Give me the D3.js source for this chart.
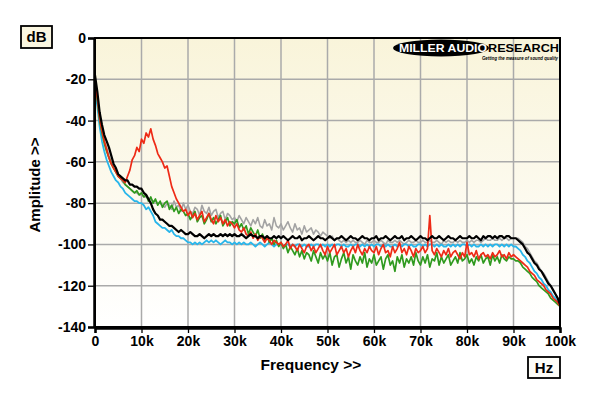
<!DOCTYPE html>
<html><head><meta charset="utf-8">
<script src="https://cdn.jsdelivr.net/npm/d3@7"></script>
<style>
html,body{margin:0;padding:0;background:#fff;}
svg{display:block;font-family:"Liberation Sans",Arial,sans-serif;}
</style></head>
<body><svg id="c" width="600" height="396"></svg>
<script>
// Frequency grid in kHz (0.5 kHz steps, 0..100) -> 201 points
const freqK = d3.range(0, 100.25, 0.5);

const black = [
-18,-26,-36,-42,-47, -50,-53,-57,-61,-63, -66,-67,-68,-69,-69, -71,-71,-72,-72,-73,
-73,-75,-76,-78,-80, -83,-85,-86,-88,-88, -89,-90,-91,-91,-92, -93,-94,-93,-94,-95,
-95,-94,-95,-96,-96, -95,-96,-97,-96,-95, -96,-95,-96,-96,-95, -96,-95,-96,-95,-96,
-95,-96,-96,-95,-96, -97,-96,-95,-96,-96, -97,-96,-96,-97,-96, -97,-97,-96,-97,-96,
-97,-96,-97,-98,-97, -96,-97,-97,-96,-98, -97,-97,-96,-97,-98, -97,-96,-97,-97,-98,
-97,-96,-97,-98,-97, -97,-96,-97,-98,-97, -96,-97,-97,-98,-97, -96,-97,-97,-98,-97,
-97,-96,-98,-97,-97, -96,-97,-98,-97,-96, -97,-97,-96,-98,-97, -97,-96,-97,-98,-97,
-96,-97,-97,-98,-97, -96,-97,-97,-96,-97, -98,-97,-96,-97,-97, -98,-97,-96,-97,-97,
-97,-96,-97,-97,-96, -97,-98,-96,-97,-96, -96,-97,-96,-97,-96, -96,-97,-96,-96,-97,
-97,-97,-98,-99,-100, -102,-104,-105,-107,-109, -110,-112,-113,-115,-117, -119,-120,-122,-124,-126,
-129];

const gray = [
-20,-28,-38,-44,-50, -53,-57,-60,-63,-65, -67,-68,-70,-71,-72, -73,-74,-75,-75,-76,
-76,-77,-77,-78,-78, -79,-79,-80,-80,-81, -82,-80,-81,-83,-79, -82,-81,-84,-80,-83,
-81,-84,-85,-82,-83, -86,-81,-84,-85,-82, -86,-84,-83,-87,-85, -84,-88,-85,-86,-88,
-87,-89,-86,-88,-90, -87,-89,-91,-88,-90, -87,-91,-92,-88,-91, -90,-93,-87,-91,-92,
-90,-93,-91,-89,-92, -94,-90,-93,-92,-95, -91,-94,-93,-92,-95, -93,-94,-96,-94,-95,
-96,-97,-96,-98,-97, -98,-99,-98,-99,-98, -99,-98,-99,-99,-98, -99,-100,-98,-99,-99,
-98,-99,-99,-98,-99, -100,-98,-99,-99,-98, -99,-98,-99,-100,-99, -98,-99,-99,-98,-99,
-99,-98,-99,-99,-98, -99,-99,-98,-99,-100, -98,-99,-98,-99,-99, -98,-99,-98,-99,-99,
-98,-99,-98,-99,-98, -98,-99,-98,-97,-98, -98,-97,-98,-98,-97, -98,-97,-97,-98,-97,
-97,-97,-97,-98,-99, -101,-102,-104,-106,-108, -109,-111,-113,-114,-116, -118,-120,-122,-124,-126,
-129];

const cyan = [
-26,-33,-43,-50,-55, -59,-62,-65,-67,-69, -70,-72,-73,-75,-76, -77,-78,-79,-79,-80,
-80,-81,-83,-82,-84, -86,-89,-90,-91,-92, -92,-93,-94,-93,-95, -96,-96,-97,-97,-98,
-99,-99,-100,-99,-100, -99,-100,-99,-98,-99, -98,-99,-98,-99,-100, -99,-98,-99,-99,-100,
-99,-100,-99,-100,-99, -100,-100,-99,-100,-101, -100,-99,-100,-101,-100, -99,-100,-101,-100,-100,
-100,-101,-100,-100,-101, -100,-101,-100,-100,-101, -100,-101,-101,-100,-101, -100,-100,-101,-100,-101,
-100,-101,-100,-101,-100, -100,-101,-100,-101,-101, -100,-101,-100,-100,-101, -100,-101,-100,-101,-100,
-101,-100,-100,-101,-100, -101,-100,-101,-101,-100, -101,-100,-101,-100,-100, -101,-100,-101,-101,-100,
-100,-101,-100,-101,-100, -100,-101,-100,-101,-100, -101,-101,-100,-101,-100, -101,-100,-101,-100,-100,
-101,-100,-101,-100,-101, -101,-100,-101,-100,-101, -100,-101,-100,-100,-101, -100,-101,-100,-101,-100,
-101,-101,-102,-103,-105, -106,-108,-109,-111,-113, -114,-116,-117,-119,-120, -122,-123,-125,-126,-128,
-129];

const green = [
-22,-30,-40,-46,-51, -55,-58,-61,-63,-65, -67,-68,-69,-71,-72, -73,-74,-75,-74,-76,
-75,-77,-76,-79,-77, -80,-78,-81,-79,-82, -80,-79,-83,-81,-84, -82,-85,-83,-84,-86,
-85,-88,-86,-84,-89, -87,-86,-90,-88,-85, -89,-87,-90,-88,-86, -91,-89,-87,-91,-89,
-90,-88,-92,-90,-93, -91,-95,-92,-94,-96, -93,-97,-95,-98,-96, -99,-97,-100,-98,-101,
-99,-102,-100,-104,-101, -103,-105,-102,-106,-103, -107,-104,-105,-108,-103, -106,-109,-104,-107,-105,
-108,-104,-110,-106,-105, -111,-107,-104,-109,-106, -112,-105,-108,-110,-106, -109,-104,-111,-107,-109,
-105,-110,-108,-106,-112, -107,-105,-110,-108,-113, -106,-109,-105,-111,-107, -109,-106,-110,-104,-108,
-110,-106,-109,-105,-111, -107,-108,-104,-110,-106, -109,-107,-105,-110,-108, -106,-109,-104,-108,-107,
-105,-109,-107,-110,-106, -108,-105,-109,-107,-106, -110,-105,-108,-106,-109, -105,-107,-108,-106,-107,
-107,-108,-108,-109,-111, -112,-113,-114,-116,-117, -118,-120,-121,-122,-123, -124,-126,-127,-128,-129,
-130];

const red = [
-21,-29,-39,-45,-50, -54,-58,-61,-63,-65, -67,-68,-69,-70,-67, -64,-59,-57,-53,-55,
-49,-51,-46,-48,-44, -49,-52,-56,-58,-60, -63,-62,-67,-72,-75, -78,-80,-82,-84,-83,
-86,-84,-87,-85,-88, -86,-84,-89,-87,-85, -88,-90,-86,-89,-87, -90,-88,-91,-89,-90,
-92,-90,-93,-94,-92, -95,-96,-94,-97,-95, -98,-96,-97,-99,-97, -98,-100,-98,-99,-100,
-99,-101,-100,-98,-102, -100,-101,-103,-100,-102, -104,-101,-100,-103,-101, -104,-102,-100,-103,-105,
-101,-104,-102,-100,-105, -103,-101,-104,-102,-106, -103,-101,-104,-100,-103, -105,-102,-104,-101,-103,
-104,-101,-105,-102,-100, -104,-103,-106,-101,-104, -102,-99,-104,-102,-105, -101,-103,-106,-102,-104,
-103,-101,-104,-102,-86, -103,-105,-102,-104,-106, -103,-105,-102,-106,-104, -103,-105,-107,-104,-106,
-99,-105,-104,-106,-103, -107,-105,-104,-106,-105, -107,-104,-106,-105,-103, -106,-105,-107,-104,-106,
-105,-106,-107,-108,-109, -110,-111,-113,-114,-115, -117,-118,-119,-120,-122, -123,-124,-126,-127,-128,
-130];

const yTicks = [0,-20,-40,-60,-80,-100,-120,-140];
const yTickLabels = ["0","-20","-40","-60","-80","-100","-120","-140"];
const xTicksK = [0,10,20,30,40,50,60,70,80,90,100];
const xTickLabels = ["0","10k","20k","30k","40k","50k","60k","70k","80k","90k","100k"];

const svg = d3.select("#c");
const L=95, R=560, T=38, B=327;
const x = d3.scaleLinear().domain([0,100]).range([L,R]);
const y = d3.scaleLinear().domain([-140,0]).range([B,T]);

const defs = svg.append("defs");
const grad = defs.append("linearGradient").attr("id","bg").attr("x1",0).attr("y1",0).attr("x2",0).attr("y2",1);
grad.append("stop").attr("offset","0%").attr("stop-color","#f9f4da");
grad.append("stop").attr("offset","100%").attr("stop-color","#ffffff");
defs.append("clipPath").attr("id","clip").append("rect").attr("x",L).attr("y",T).attr("width",R-L).attr("height",B-T);

svg.append("rect").attr("x",L).attr("y",T).attr("width",R-L).attr("height",B-T).attr("fill","url(#bg)");

// grid
const g = svg.append("g");
g.selectAll(".gv").data(xTicksK.slice(1,-1)).enter().append("line")
  .attr("x1",d=>x(d)).attr("x2",d=>x(d)).attr("y1",T).attr("y2",B)
  .attr("stroke","#aaaaaa").attr("stroke-width",1.5);
g.selectAll(".gh").data(yTicks.slice(1,-1)).enter().append("line")
  .attr("x1",L).attr("x2",R).attr("y1",d=>y(d)).attr("y2",d=>y(d))
  .attr("stroke","#aaaaaa").attr("stroke-width",1.5);

// logo
const logo = svg.append("g");
logo.append("ellipse").attr("cx",441).attr("cy",48).attr("rx",48).attr("ry",8.5).attr("fill","#000");
logo.append("text").attr("x",399).attr("y",52).attr("fill","#fff").attr("font-size",11).attr("font-weight",900)
  .attr("textLength",88).attr("lengthAdjust","spacingAndGlyphs").text("MILLER AUDIO");
logo.append("text").attr("x",488).attr("y",52).attr("fill","#000").attr("font-size",11).attr("font-weight",900)
  .attr("textLength",71).attr("lengthAdjust","spacingAndGlyphs").text("RESEARCH");
logo.append("text").attr("x",482).attr("y",60).attr("fill","#000").attr("font-size",5).attr("font-weight",700)
  .attr("font-style","italic").attr("textLength",76).attr("lengthAdjust","spacingAndGlyphs").text("Getting the measure of sound quality");

// curves
const line = d3.line().x((d,i)=>x(freqK[i])).y(d=>y(d));
const cg = svg.append("g").attr("clip-path","url(#clip)");
const series = [
  {v:gray,c:"#a3a3a3",w:1.6},
  {v:cyan,c:"#27b5ea",w:1.8},
  {v:green,c:"#2f9a1e",w:1.7},
  {v:red,c:"#ee2a16",w:1.7},
  {v:black,c:"#000000",w:2.2}
];
series.forEach(s=>{
  cg.append("path").attr("d",line(s.v)).attr("fill","none").attr("stroke",s.c)
    .attr("stroke-width",s.w).attr("stroke-linejoin","round");
});

// border
svg.append("rect").attr("x",L).attr("y",T).attr("width",R-L).attr("height",B-T)
  .attr("fill","none").attr("stroke","#000").attr("stroke-width",2);

// axes
const ya = svg.append("g").attr("transform",`translate(${L-1},0)`)
  .call(d3.axisLeft(y).tickValues(yTicks).tickSize(6).tickPadding(2).tickFormat((d,i)=>yTickLabels[i]));
const xa = svg.append("g").attr("transform",`translate(0,${B+1})`)
  .call(d3.axisBottom(x).tickValues(xTicksK).tickSize(5).tickPadding(3).tickFormat((d,i)=>xTickLabels[i]));
[ya,xa].forEach(a=>{
  a.select(".domain").attr("stroke","#000").attr("stroke-width",2.5);
  a.selectAll(".tick line").attr("stroke","#000").attr("stroke-width",1.3);
  a.selectAll(".tick text").attr("fill","#000").attr("font-size",14).attr("font-weight",700)
    .attr("font-family","'Liberation Sans',Arial,sans-serif");
});

// labels
svg.append("text").attr("x",311).attr("y",370).attr("text-anchor","middle")
  .attr("font-size",15.5).attr("font-weight",700).text("Frequency >>");
svg.append("text").attr("transform","translate(40,185) rotate(-90)").attr("text-anchor","middle")
  .attr("font-size",15).attr("font-weight",700).text("Amplitude >>");

// unit boxes
svg.append("rect").attr("x",21).attr("y",26).attr("width",31).attr("height",22)
  .attr("fill","#faf6e0").attr("stroke","#000").attr("stroke-width",1.8);
svg.append("text").attr("x",36.5).attr("y",42).attr("text-anchor","middle")
  .attr("font-size",15).attr("font-weight",700).text("dB");
svg.append("rect").attr("x",528).attr("y",357).attr("width",32).attr("height",21)
  .attr("fill","#fdfdf8").attr("stroke","#000").attr("stroke-width",1.8);
svg.append("text").attr("x",544).attr("y",373).attr("text-anchor","middle")
  .attr("font-size",15).attr("font-weight",700).text("Hz");
</script></body></html>
